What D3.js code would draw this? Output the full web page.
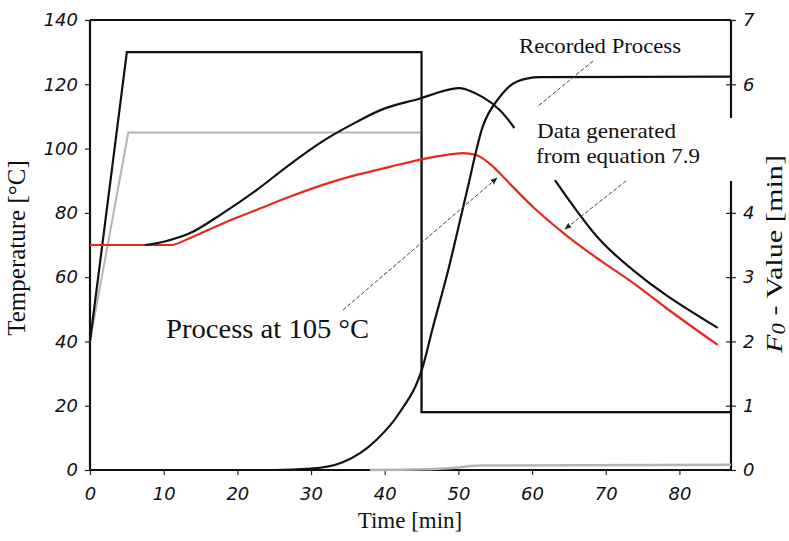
<!DOCTYPE html>
<meta charset="utf-8" />
<title>Temperature and F0 value</title>
<script src="https://d3js.org/d3.v7.min.js"></script>
<style>
  body { margin: 0; background: #fff; }
  .tick text { font-family: "DejaVu Sans", sans-serif; font-style: italic; font-size: 18px; fill: #111; }
  .ttl { font-family: "Liberation Serif", "Times New Roman", serif; fill: #111; }
</style>
<svg id="chart" width="789" height="541"></svg>
<script>
  // tick values
  var timeTicks = [0, 10, 20, 30, 40, 50, 60, 70, 80];
  var tempTicks = [0, 20, 40, 60, 80, 100, 120, 140];
  var f0Shown   = [0, 1, 2, 3, 4, 6, 7]; // "5" sits behind the label box

  // oven set point, process at 130 (black) [min], [degC]
  var set130T = [0, 5, 45, 45, 87];
  var set130V = [40, 130, 130, 18, 18];
  // oven set point, process at 105 (grey)
  var set105T = [0, 5.2, 45, 45, 87];
  var set105V = [40, 105, 105, 18, 18];

  // core temperature, data generated from equation 7.9 (red)
  var eqT = [0, 11, 13.6, 18.1, 22.6, 27.1, 31.6, 36.2, 40.7, 44.7, 48, 50.6, 52.4, 54.7, 56.5, 60.1, 64.6, 69.2, 73.7, 78.2, 85.2];
  var eqV = [70, 70, 72.2, 76.8, 80.9, 85, 88.7, 91.8, 94.3, 96.5, 97.9, 98.6, 98, 94.4, 90.2, 81.9, 73.1, 65.3, 58.2, 50.4, 38.9];

  // recorded core temperature (black), NaN = hidden behind label
  var recT = [7.5, 10, 13.6, 18.1, 22.6, 27.1, 31.6, 36.2, 40, 44.7, 47.5, 50.2, 53.3, 55.6, 57.6, 60, 63.1, 69.2, 73.7, 78.2, 85.2];
  var recV = [70, 71, 73.7, 80, 87.1, 95, 102.3, 108.3, 112.5, 115.5, 117.6, 118.8, 116, 112, 106.4, NaN, 90.2, 71.6, 62.2, 54.4, 44.2];

  // recorded F0 value [min] (black)
  var f0RecT = [0, 25, 30, 34.3, 38.9, 42, 45.2, 46.5, 48.6, 51.1, 53.3, 55.6, 57.9, 61, 87];
  var f0RecV = [0, 0, 0.02, 0.12, 0.47, 0.89, 1.62, 2.2, 3.1, 4.31, 5.34, 5.8, 6.04, 6.11, 6.12];

  // F0 value, process at 105 (grey)
  var f0LowT = [38, 45, 50, 53, 87];
  var f0LowV = [0, 0.01, 0.04, 0.07, 0.08];

  var svg = d3.select("#chart");
  var pLeft = 90, pRight = 731, pTop = 20, pBottom = 470;

  var x  = d3.scaleLinear().domain([0, 87]).range([pLeft, pRight]);
  var yT = d3.scaleLinear().domain([0, 140]).range([pBottom, pTop]);
  var yF = d3.scaleLinear().domain([0, 7]).range([pBottom, pTop]);

  function pts(ts, vs) { return ts.map(function(t, i) { return [t, vs[i]]; }); }

  var lineT = d3.line()
    .x(function(d) { return x(d[0]); })
    .y(function(d) { return yT(d[1]); });
  var monoT = d3.line()
    .curve(d3.curveMonotoneX)
    .x(function(d) { return x(d[0]); })
    .y(function(d) { return yT(d[1]); });
  var smoothT = d3.line()
    .defined(function(d) { return !isNaN(d[1]); })
    .curve(d3.curveCatmullRom.alpha(0.5))
    .x(function(d) { return x(d[0]); })
    .y(function(d) { return yT(d[1]); });
  var smoothF = d3.line()
    .curve(d3.curveMonotoneX)
    .x(function(d) { return x(d[0]); })
    .y(function(d) { return yF(d[1]); });

  // axes
  var gl = svg.append("g").attr("transform", "translate(" + pLeft + ",0)")
    .call(d3.axisLeft(yT).tickValues(tempTicks).tickSize(5).tickPadding(7));
  var gb = svg.append("g").attr("transform", "translate(0," + pBottom + ")")
    .call(d3.axisBottom(x).tickValues(timeTicks).tickSize(5).tickPadding(12));
  var gr = svg.append("g").attr("transform", "translate(" + pRight + ",0)")
    .call(d3.axisRight(yF).tickValues(f0Shown).tickFormat(d3.format("d")).tickSize(5).tickPadding(7));
  gr.selectAll(".tick line").attr("x1", -5).attr("x2", 5);
  [gl, gb, gr].forEach(function(g) {
    g.select(".domain").remove();
    g.selectAll(".tick line").attr("stroke", "#222").attr("stroke-width", 1.2);
  });

  // frame, right side broken by the label box
  var frame = svg.append("g").attr("stroke", "#111").attr("stroke-width", 2.2).attr("fill", "none");
  frame.append("line").attr("x1", pLeft).attr("x2", pRight).attr("y1", pTop).attr("y2", pTop);
  frame.append("line").attr("x1", pLeft).attr("x2", pRight).attr("y1", pBottom).attr("y2", pBottom);
  frame.append("line").attr("x1", pLeft).attr("x2", pLeft).attr("y1", pTop).attr("y2", pBottom);
  frame.append("line").attr("x1", pRight).attr("x2", pRight).attr("y1", pTop).attr("y2", 118);
  frame.append("line").attr("x1", pRight).attr("x2", pRight).attr("y1", 181).attr("y2", pBottom);

  // series
  svg.append("path").attr("d", lineT(pts(set105T, set105V)))
    .attr("fill", "none").attr("stroke", "#b4b4b4").attr("stroke-width", 2);
  svg.append("path").attr("d", smoothF(pts(f0LowT, f0LowV)))
    .attr("fill", "none").attr("stroke", "#b4b4b4").attr("stroke-width", 2.5);
  svg.append("path").attr("d", lineT(pts(set130T, set130V)))
    .attr("fill", "none").attr("stroke", "#111").attr("stroke-width", 2.2);
  svg.append("path").attr("d", monoT(pts(eqT, eqV)))
    .attr("fill", "none").attr("stroke", "#e8281e").attr("stroke-width", 2.2);
  svg.append("path").attr("d", smoothT(pts(recT, recV)))
    .attr("fill", "none").attr("stroke", "#111").attr("stroke-width", 2.2);
  svg.append("path").attr("d", smoothF(pts(f0RecT, f0RecV)))
    .attr("fill", "none").attr("stroke", "#111").attr("stroke-width", 2.2);

  // annotation texts, fitted to the widths seen in the figure
  function label(txt, px, py, size, len) {
    return svg.append("text").attr("class", "ttl").attr("font-size", size)
      .attr("x", px).attr("y", py)
      .attr("textLength", len).attr("lengthAdjust", "spacingAndGlyphs")
      .text(txt);
  }

  // axis titles
  svg.append("text").attr("class", "ttl").attr("font-size", 25)
    .attr("transform", "translate(25,248) rotate(-90)").attr("text-anchor", "middle")
    .text("Temperature [°C]");
  svg.append("text").attr("class", "ttl").attr("font-size", 23)
    .attr("x", 410).attr("y", 528).attr("text-anchor", "middle")
    .text("Time [min]");
  var rt = svg.append("text").attr("class", "ttl").attr("font-size", 24)
    .attr("transform", "translate(782,254) rotate(-90)").attr("text-anchor", "middle")
    .attr("textLength", 198).attr("lengthAdjust", "spacingAndGlyphs");
  rt.append("tspan").attr("font-style", "italic").text("F");
  rt.append("tspan").attr("font-style", "italic").attr("font-size", 18).attr("dy", 3).text("0");
  rt.append("tspan").attr("dy", -3).text(" - Value [min]");

  // annotations
  label("Recorded Process", 519, 53, 21, 162);
  label("Data generated", 537, 138, 21, 139);
  label("from equation 7.9", 536, 163, 21, 164);
  label("Process at 105 °C", 166, 338, 28, 203);

  svg.append("defs").append("marker").attr("id", "arr")
    .attr("viewBox", "0 0 10 10").attr("refX", 9).attr("refY", 5)
    .attr("markerWidth", 7).attr("markerHeight", 7).attr("orient", "auto")
    .append("path").attr("d", "M0,1 L10,5 L0,9 Z").attr("fill", "#222");

  var leaders = [
    [[593, 61], [537, 107], false],
    [[343, 310], [497, 178], true],
    [[626, 181], [565, 229], true]
  ];
  leaders.forEach(function(l) {
    var p = svg.append("line")
      .attr("x1", l[0][0]).attr("y1", l[0][1]).attr("x2", l[1][0]).attr("y2", l[1][1])
      .attr("stroke", "#444").attr("stroke-width", 1).attr("stroke-dasharray", "4,2");
    if (l[2]) p.attr("marker-end", "url(#arr)");
  });
</script>
